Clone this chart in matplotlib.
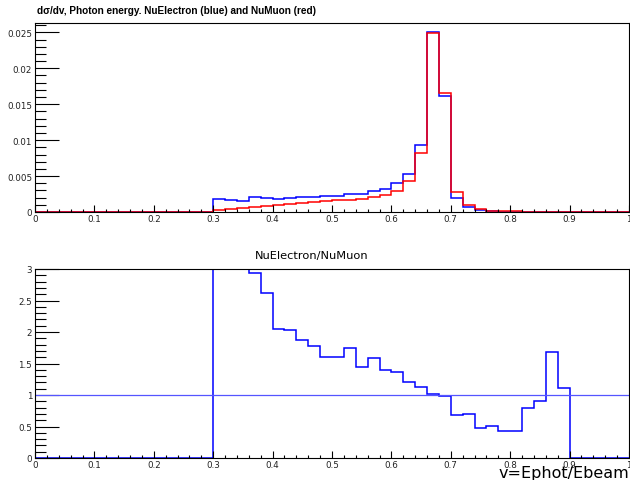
import numpy as np
import matplotlib
matplotlib.use("Agg")
import matplotlib.pyplot as plt
from matplotlib.ticker import MultipleLocator

plt.rcParams['font.family'] = ['DejaVu Sans']

# 50 bins from 0 to 1
edges = np.linspace(0, 1, 51)

nu_electron = [0]*15 + [
    0.00177, 0.00172, 0.00158, 0.00205, 0.00191,
    0.00182, 0.00191, 0.00205, 0.00214, 0.00219,
    0.00228, 0.00251, 0.00251, 0.00289, 0.00321,
    0.00405, 0.00531, 0.00926, 0.0251, 0.0162,
    0.0019, 0.00075, 0.0003, 0.0001, 0.00005,
    0.00003, 0.00002, 0.00002, 0.00003, 0.00002,
    0, 0, 0, 0, 0]

nu_muon = [0]*15 + [
    0.00023, 0.00042, 0.00051, 0.00065, 0.00079,
    0.00098, 0.00112, 0.00126, 0.00135, 0.00154,
    0.00163, 0.00172, 0.00182, 0.00205, 0.00242,
    0.00298, 0.00438, 0.00824, 0.0249, 0.0166,
    0.00284, 0.00098, 0.0004, 0.00014, 0.0001,
    0.00007, 0.00004, 0.00003, 0.00002, 0.00001,
    0, 0, 0, 0, 0]

ratio = [0]*15 + [
    7.7, 4.1, 3.1, 2.93, 2.62,
    2.04, 2.03, 1.88, 1.78, 1.61,
    1.60, 1.75, 1.45, 1.58, 1.39,
    1.36, 1.20, 1.125, 1.02, 0.99,
    0.685, 0.706, 0.483, 0.504, 0.435,
    0.425, 0.79, 0.90, 1.68, 1.11,
    0, 0, 0, 0, 0]

top_yticks = [0, 0.005, 0.01, 0.015, 0.02, 0.025]
top_ylabels = ['0', '0.005', '0.01', '0.015', '0.02', '0.025']
bot_yticks = [0, 0.5, 1, 1.5, 2, 2.5, 3]
bot_ylabels = ['0', '0.5', '1', '1.5', '2', '2.5', '3']
xticks = [0, 0.1, 0.2, 0.3, 0.4, 0.5, 0.6, 0.7, 0.8, 0.9, 1.0]
xlabels = ['0', '0.1', '0.2', '0.3', '0.4', '0.5', '0.6', '0.7', '0.8', '0.9', '1']

top_title = "d\u03c3/dv, Photon energy. NuElectron (blue) and NuMuon (red)"
bottom_title = "NuElectron/NuMuon"
xlabel = "v=Ephot/Ebeam"

W, H = 630, 481
fig = plt.figure(figsize=(W/100, H/100), dpi=100)

def axrect(x0, y0, x1, y1):
    return [x0/W, 1 - y1/H, (x1-x0)/W, (y1-y0)/H]

ax1 = fig.add_axes(axrect(35, 24, 629, 213))
ax2 = fig.add_axes(axrect(35, 270, 629, 459))

def style(ax, yticks, ylabels, ymaj, ymin, ymax):
    ax.set_xlim(0, 1)
    ax.set_xticks(xticks)
    ax.set_xticklabels(xlabels)
    ax.xaxis.set_minor_locator(MultipleLocator(0.02))
    ax.set_yticks(yticks)
    ax.set_yticklabels(ylabels)
    ax.yaxis.set_minor_locator(MultipleLocator(ymin))
    ax.set_ylim(0, ymax)
    ax.tick_params(axis='both', which='both', direction='in', labelsize=6.3,
                   labelcolor='#222222', width=0.8)
    ax.tick_params(axis='x', which='major', length=5, pad=1.5)
    ax.tick_params(axis='x', which='minor', length=2.5)
    ax.tick_params(axis='y', which='major', length=17, pad=2)
    ax.tick_params(axis='y', which='minor', length=8)
    ax.tick_params(top=False, right=False)
    for s in ax.spines.values():
        s.set_linewidth(0.8)

ax1.stairs(nu_electron, edges, color='blue', lw=1.1, baseline=None)
ax1.stairs(nu_muon, edges, color='red', lw=1.1, baseline=None)
style(ax1, top_yticks, top_ylabels, 0.005, 0.001, 0.0263)

ax2.stairs(ratio, edges, color='blue', lw=1.1, baseline=None)
ax2.axhline(1, color='#5555ff', lw=0.9)
style(ax2, bot_yticks, bot_ylabels, 0.5, 0.1, 3)

fig.text(37/W, 1 - 11/H, top_title, fontsize=7.2, fontweight='bold', ha='left',
         va='center', family='Liberation Sans')
fig.text(312/W, 1 - 256/H, bottom_title, fontsize=8.2, ha='center', va='center')
fig.text(629/W, 1 - 478/H, xlabel, fontsize=11.5, ha='right', va='baseline')

fig.savefig('out.png', dpi=100)
